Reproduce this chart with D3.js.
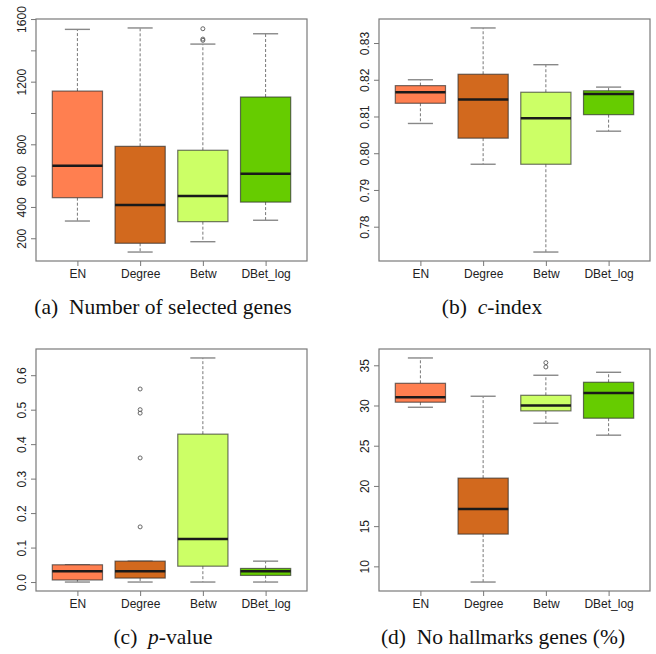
<!DOCTYPE html>
<html>
<head>
<meta charset="utf-8">
<script src="https://cdn.jsdelivr.net/npm/d3@7"></script>
<style>
  html, body { margin: 0; padding: 0; background: #fff; }
  svg { display: block; }
</style>
</head>
<body>
<svg id="chart" width="656" height="654"></svg>
<script>
// ---------- data ----------
const categories = ["EN", "Degree", "Betw", "DBet_log"];
const boxColors = ["#FF7F50", "#D2691E", "#CCFF66", "#66CC00"];

// (a) Number of selected genes
const genesLow    = [310, 112, 178, 315];
const genesQ1     = [459, 168, 306, 431];
const genesMedian = [663, 412, 470, 612];
const genesQ3     = [1140, 787, 762, 1102];
const genesHigh   = [1534, 1543, 1440, 1506];
const genesOutliers = [[], [], [1538, 1472, 1464], []];
const genesTicks  = [200, 400, 600, 800, 1000, 1200, 1400, 1600];
const genesTickLabels = ["200", "400", "600", "800", "", "1200", "", "1600"];

// (b) c-index
const cindexLow    = [0.8081, 0.7970, 0.7731, 0.8060];
const cindexQ1     = [0.8136, 0.8041, 0.7970, 0.8105];
const cindexMedian = [0.8166, 0.8146, 0.8095, 0.8161];
const cindexQ3     = [0.8184, 0.8215, 0.8166, 0.8170];
const cindexHigh   = [0.8200, 0.8341, 0.8241, 0.8180];
const cindexOutliers = [[], [], [], []];
const cindexTicks  = [0.78, 0.79, 0.80, 0.81, 0.82, 0.83];
const cindexTickLabels = ["0.78", "0.79", "0.80", "0.81", "0.82", "0.83"];

// (c) p-value
const pvalLow    = [0.000, 0.000, 0.000, 0.000];
const pvalQ1     = [0.006, 0.0115, 0.046, 0.0192];
const pvalMedian = [0.031, 0.031, 0.125, 0.031];
const pvalQ3     = [0.050, 0.0606, 0.429, 0.0394];
const pvalHigh   = [0.050, 0.0606, 0.650, 0.0606];
const pvalOutliers = [[], [0.56, 0.50, 0.49, 0.36, 0.16], [], []];
const pvalTicks  = [0.0, 0.1, 0.2, 0.3, 0.4, 0.5, 0.6];
const pvalTickLabels = ["0.0", "0.1", "0.2", "0.3", "0.4", "0.5", "0.6"];

// (d) No hallmarks genes (%)
const hallLow    = [29.78, 8.05, 27.80, 26.31];
const hallQ1     = [30.41, 14.01, 29.33, 28.42];
const hallMedian = [31.03, 17.12, 30.00, 31.56];
const hallQ3     = [32.76, 20.97, 31.27, 32.89];
const hallHigh   = [35.91, 31.15, 33.76, 34.13];
const hallOutliers = [[], [], [35.33, 34.79], []];
const hallTicks  = [10, 15, 20, 25, 30, 35];
const hallTickLabels = ["10", "15", "20", "25", "30", "35"];

// ---------- drawing ----------
const svg = d3.select("#chart");

function buildRows(low, q1, med, q3, high, outl) {
  return categories.map((c, i) => ({
    cat: c, idx: i + 1, color: boxColors[i],
    low: low[i], q1: q1[i], med: med[i], q3: q3[i], high: high[i], out: outl[i]
  }));
}

function panel(opts) {
  const { left, right, top, bottom, rows, ticks, tickLabels, caption, capX, capY } = opts;
  const g = svg.append("g");
  // R-like padding of 4%
  const vals = rows.flatMap(r => [r.low, r.high, ...r.out]);
  const mn = d3.min(vals), mx = d3.max(vals);
  const pad = (mx - mn) * 0.04;
  const y = d3.scaleLinear().domain([mn - pad, mx + pad]).range([bottom, top]);
  const x = d3.scaleLinear().domain([0.5 - 0.16, 4.5 + 0.16]).range([left, right]);
  const boxW = x(0.8) - x(0);
  const capW = x(0.4) - x(0);

  const b = g.selectAll("g.box").data(rows).join("g").attr("class", "box");
  // whiskers (dashed)
  b.append("line")
    .attr("x1", d => x(d.idx)).attr("x2", d => x(d.idx))
    .attr("y1", d => y(d.q3)).attr("y2", d => y(d.high))
    .attr("stroke", "#777").attr("stroke-width", 1).attr("stroke-dasharray", "3,2");
  b.append("line")
    .attr("x1", d => x(d.idx)).attr("x2", d => x(d.idx))
    .attr("y1", d => y(d.q1)).attr("y2", d => y(d.low))
    .attr("stroke", "#777").attr("stroke-width", 1).attr("stroke-dasharray", "3,2");
  // caps
  b.append("line")
    .attr("x1", d => x(d.idx) - capW / 2).attr("x2", d => x(d.idx) + capW / 2)
    .attr("y1", d => y(d.high)).attr("y2", d => y(d.high))
    .attr("stroke", "#888").attr("stroke-width", 1.4);
  b.append("line")
    .attr("x1", d => x(d.idx) - capW / 2).attr("x2", d => x(d.idx) + capW / 2)
    .attr("y1", d => y(d.low)).attr("y2", d => y(d.low))
    .attr("stroke", "#888").attr("stroke-width", 1.4);
  // box
  b.append("rect")
    .attr("x", d => x(d.idx) - boxW / 2).attr("width", boxW)
    .attr("y", d => y(d.q3)).attr("height", d => Math.max(1, y(d.q1) - y(d.q3)))
    .attr("fill", d => d.color)
    .attr("stroke", "rgba(40,40,40,0.65)").attr("stroke-width", 1.2);
  // median
  b.append("line")
    .attr("x1", d => x(d.idx) - boxW / 2).attr("x2", d => x(d.idx) + boxW / 2)
    .attr("y1", d => y(d.med)).attr("y2", d => y(d.med))
    .attr("stroke", "#1a1a1a").attr("stroke-width", 2.5);
  // outliers
  b.selectAll("circle").data(d => d.out.map(v => ({ v, idx: d.idx }))).join("circle")
    .attr("cx", d => x(d.idx)).attr("cy", d => y(d.v)).attr("r", 2)
    .attr("fill", "none").attr("stroke", "#666").attr("stroke-width", 1);

  // frame
  g.append("rect").attr("x", left).attr("y", top)
    .attr("width", right - left).attr("height", bottom - top)
    .attr("fill", "none").attr("stroke", "#7a7a7a").attr("stroke-width", 1.2);

  // y axis
  const ya = g.append("g").attr("transform", `translate(${left},0)`)
    .call(d3.axisLeft(y).tickValues(ticks).tickSize(5).tickSizeOuter(0)
      .tickFormat((d, i) => tickLabels[i]));
  ya.select(".domain").remove();
  ya.selectAll(".tick line").attr("stroke", "#777");
  ya.selectAll(".tick text")
    .attr("transform", "rotate(-90)")
    .attr("x", 0).attr("y", -10.5).attr("dy", 0)
    .attr("text-anchor", "middle")
    .attr("font-family", "'Liberation Sans', Arial, sans-serif")
    .attr("font-size", 12).attr("fill", "#222");

  // x axis
  const xa = g.append("g").attr("transform", `translate(0,${bottom})`)
    .call(d3.axisBottom(x).tickValues([1, 2, 3, 4]).tickSize(5).tickSizeOuter(0)
      .tickFormat((d, i) => categories[i]));
  xa.select(".domain").remove();
  xa.selectAll(".tick line").attr("stroke", "#777");
  xa.selectAll(".tick text")
    .attr("y", 17).attr("dy", 0)
    .attr("font-family", "'Liberation Sans', Arial, sans-serif")
    .attr("font-size", 12).attr("fill", "#222");

  // caption
  const cap = svg.append("text")
    .attr("x", capX).attr("y", capY)
    .attr("text-anchor", "middle")
    .attr("font-family", "'Liberation Serif', 'Times New Roman', serif")
    .attr("font-size", 21.5).attr("fill", "#111")
    .attr("xml:space", "preserve");
  caption.forEach(part => {
    cap.append("tspan").attr("font-style", part.italic ? "italic" : "normal").text(part.t);
  });
}

panel({
  left: 36, right: 307, top: 19, bottom: 261,
  rows: buildRows(genesLow, genesQ1, genesMedian, genesQ3, genesHigh, genesOutliers),
  ticks: genesTicks, tickLabels: genesTickLabels,
  caption: [{ t: "(a)  Number of selected genes" }], capX: 163, capY: 314
});
panel({
  left: 379, right: 650, top: 19, bottom: 261,
  rows: buildRows(cindexLow, cindexQ1, cindexMedian, cindexQ3, cindexHigh, cindexOutliers),
  ticks: cindexTicks, tickLabels: cindexTickLabels,
  caption: [{ t: "(b)  " }, { t: "c", italic: true }, { t: "-index" }], capX: 492, capY: 314
});
panel({
  left: 36, right: 307, top: 349, bottom: 591,
  rows: buildRows(pvalLow, pvalQ1, pvalMedian, pvalQ3, pvalHigh, pvalOutliers),
  ticks: pvalTicks, tickLabels: pvalTickLabels,
  caption: [{ t: "(c)  " }, { t: "p", italic: true }, { t: "-value" }], capX: 163, capY: 644
});
panel({
  left: 379, right: 650, top: 349, bottom: 591,
  rows: buildRows(hallLow, hallQ1, hallMedian, hallQ3, hallHigh, hallOutliers),
  ticks: hallTicks, tickLabels: hallTickLabels,
  caption: [{ t: "(d)  No hallmarks genes (%)" }], capX: 503, capY: 644
});
</script>
</body>
</html>
